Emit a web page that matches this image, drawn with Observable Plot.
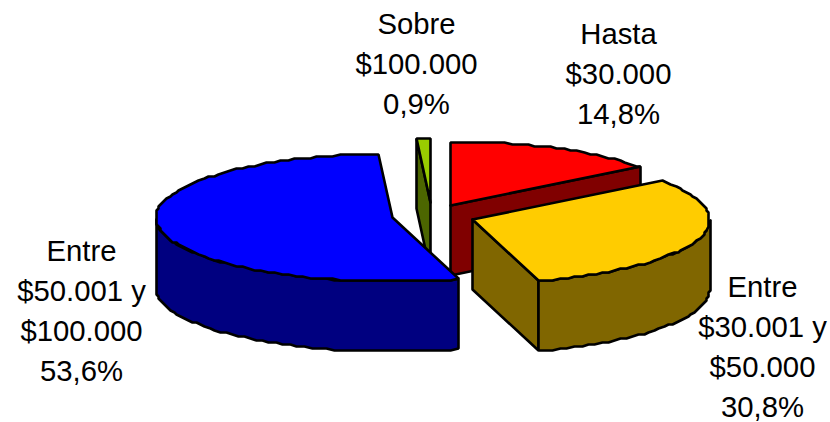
<!DOCTYPE html>
<html><head><meta charset="utf-8">
<style>html,body{margin:0;padding:0;background:#fff}svg{display:block}</style>
<script src="https://cdn.jsdelivr.net/npm/d3@7"></script>
<script src="https://cdn.jsdelivr.net/npm/@observablehq/plot@0.6"></script>
</head><body><div id="chart"></div>
<script>
const categories = ["Hasta\n$30.000","Entre\n$30.001 y\n$50.000","Entre\n$50.001 y\n$100.000","Sobre\n$100.000"];
const shares = [14.8, 30.8, 53.6, 0.9];
const shareLabels = ["14,8%","30,8%","53,6%","0,9%"];
const topColors = ["#FF0000","#FFCC00","#0000FF","#99CC00"];
const sideColors = ["#800000","#806600","#000080","#4C6600"];
// layout of the exploded 3-D pie, in chart units
const apexX = [450, 472, 392, 430];
const apexY = [205, 219, 217, 202];
const labelX = [618, 762, 81, 416];
const labelY = [15, 268, 232, 5];
const rx = 237, ry = 64, depth = 70, W = 830, H = 422;

const total = d3.sum(shares);
const cum = d3.cumsum(shares);
const ang = i => [(i ? cum[i-1] : 0) / total * 2 * Math.PI, cum[i] / total * 2 * Math.PI];
const snap = v => Math.round(v / 2) * 2;
const rim = (i, t, dz = 0) => ({x: snap(apexX[i] + rx * Math.sin(t)), y: snap(apexY[i] - ry * Math.cos(t)) + dz});
const arc = (i, a, b, dz = 0) => {
  const n = Math.max(2, Math.ceil(Math.abs(b - a) * 30));
  return d3.range(n + 1).map(k => rim(i, a + (b - a) * k / n, dz));
};
const closed = p => [...p, p[0]];
const topFace = i => { const [a,b] = ang(i); return closed([{x:apexX[i],y:apexY[i]}, ...arc(i,a,b)]); };
const cutFace = (i, t) => closed([{x:apexX[i],y:apexY[i]}, rim(i,t), rim(i,t,depth), {x:apexX[i],y:apexY[i]+depth}]);
const wallFace = (i, a, b) => closed([...arc(i,a,b), ...arc(i,b,a,depth)]);

const [h0,h1] = ang(0), [e0,e1] = ang(1), [b0,b1] = ang(2), [s0,s1] = ang(3);
const shapes = [
  {pts: cutFace(3,s0), fill: sideColors[3]},
  {pts: topFace(3), fill: topColors[3]},
  {pts: cutFace(0,h1), fill: sideColors[0]},
  {pts: topFace(0), fill: topColors[0]},
  {pts: wallFace(2,b0,1.5*Math.PI), fill: sideColors[2]},
  {pts: topFace(2), fill: topColors[2]},
  {pts: cutFace(1,e1), fill: sideColors[1]},
  {pts: wallFace(1,Math.PI/2,e1), fill: sideColors[1]},
  {pts: topFace(1), fill: topColors[1]}
];
const labels = categories.map((c,i) => ({x: labelX[i], y: labelY[i], text: c + "\n" + shareLabels[i]}));

const chart = Plot.plot({
  width: W, height: H, margin: 0,
  x: {domain:[0,W], range:[0,W], axis:null},
  y: {domain:[0,H], range:[0,H], axis:null},
  marks: [
    ...shapes.map(s => Plot.line(s.pts, {x:"x", y:"y", fill:s.fill, stroke:"#000", strokeWidth:2.6, strokeLinejoin:"miter", curve:"linear"})),
    Plot.text(labels, {x:"x", y:"y", text:"text", fontSize:29.3, lineHeight:1.365, lineAnchor:"top", textAnchor:"middle", fontFamily:"'Liberation Sans',Arial,sans-serif", fill:"#000"})
  ]
});
document.getElementById("chart").append(chart);
</script></body></html>
